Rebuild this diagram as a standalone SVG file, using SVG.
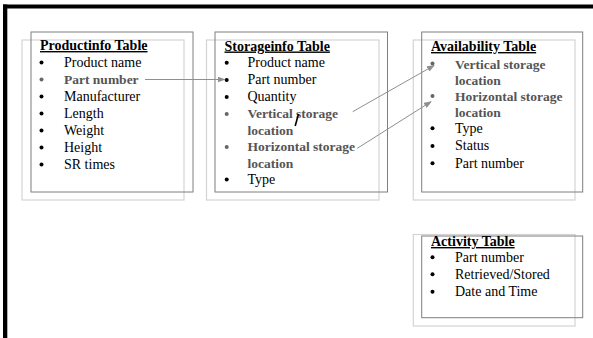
<svg xmlns="http://www.w3.org/2000/svg" width="593" height="338" viewBox="0 0 593 338">
<defs>
<style>
text{font-family:"Liberation Serif","Times New Roman",serif;font-size:14px;fill:#000}
.t{font-weight:bold;text-decoration:underline}
.b{font-weight:bold;font-size:13.5px;fill:#555}
.dk{fill:none;stroke:#7f7f7f;stroke-width:1}
.lt{fill:none;stroke:#d4d4d4;stroke-width:1.2}
.bl{fill:#000}
.bg{fill:#666}
.cn{stroke:#8f8f8f;stroke-width:1;fill:none}
</style>
<marker id="ah" markerWidth="8" markerHeight="6" refX="7" refY="3" orient="auto" markerUnits="userSpaceOnUse">
<path d="M0,0 L8,3 L0,6 Z" fill="#8f8f8f"/>
</marker>
</defs>
<rect x="0" y="0" width="593" height="338" fill="#fff"/>
<rect x="3" y="4.5" width="590" height="4" fill="#000"/>
<rect x="3" y="4.5" width="4.3" height="334" fill="#000"/>

<g id="productinfo">
<rect class="lt" x="22" y="40" width="162" height="160"/>
<rect class="dk" x="31" y="32" width="162" height="160"/>
<text class="t" x="40" y="50">Productinfo Table</text>
<circle class="bl" cx="41.5" cy="62.5" r="2"/><text x="64" y="66.7">Product name</text>
<circle class="bg" cx="41.5" cy="79.5" r="2"/><text class="b" x="64" y="83.7">Part number</text>
<circle class="bl" cx="41.5" cy="96.5" r="2"/><text x="64" y="100.7">Manufacturer</text>
<circle class="bl" cx="41.5" cy="113.5" r="2"/><text x="64" y="117.7">Length</text>
<circle class="bl" cx="41.5" cy="130.5" r="2"/><text x="64" y="134.7">Weight</text>
<circle class="bl" cx="41.5" cy="147.5" r="2"/><text x="64" y="151.7">Height</text>
<circle class="bl" cx="41.5" cy="164.5" r="2"/><text x="64" y="168.7">SR times</text>
</g>

<g id="storageinfo">
<rect class="lt" x="206.5" y="40" width="172.5" height="160"/>
<rect class="dk" x="215" y="32" width="172.5" height="160"/>
<text class="t" x="224.5" y="50.5">Storageinfo Table</text>
<circle class="bl" cx="226.7" cy="62.7" r="2"/><text x="247.5" y="67">Product name</text>
<circle class="bl" cx="226.7" cy="80" r="2"/><text x="247.5" y="84.2">Part number</text>
<circle class="bl" cx="226.7" cy="97" r="2"/><text x="247.5" y="101.2">Quantity</text>
<circle class="bg" cx="226.7" cy="114" r="2"/><text class="b" x="247.5" y="118.2">Vertical storage</text>
<text class="b" x="247.5" y="134.8">location</text>
<circle class="bg" cx="226.7" cy="147" r="2"/><text class="b" x="247.5" y="151.4">Horizontal storage</text>
<text class="b" x="247.5" y="168">location</text>
<circle class="bl" cx="226.7" cy="179.5" r="2"/><text x="247.5" y="184.2">Type</text>
<line x1="298.5" y1="114" x2="295.2" y2="126" stroke="#000" stroke-width="1.6"/>
</g>

<g id="availability">
<rect class="lt" x="413.3" y="40" width="161.7" height="160"/>
<rect class="dk" x="421.7" y="32" width="161" height="160"/>
<text class="t" x="431" y="51">Availability Table</text>
<circle class="bg" cx="432.5" cy="63.5" r="2"/><text class="b" x="455" y="68.5">Vertical storage</text>
<text class="b" x="455" y="84.5">location</text>
<circle class="bg" cx="432.5" cy="96" r="2"/><text class="b" x="455" y="100.5">Horizontal storage</text>
<text class="b" x="455" y="116.5">location</text>
<circle class="bl" cx="432.5" cy="128.3" r="2"/><text x="455" y="132.5">Type</text>
<circle class="bl" cx="432.5" cy="146" r="2"/><text x="455" y="150">Status</text>
<circle class="bl" cx="432.5" cy="163.3" r="2"/><text x="455" y="167.5">Part number</text>
</g>

<g id="activity">
<rect class="lt" x="413.3" y="234.5" width="161.7" height="91.5"/>
<rect class="dk" x="421.7" y="236" width="161" height="81.7"/>
<text class="t" x="431" y="246">Activity Table</text>
<circle class="bl" cx="432.5" cy="257.3" r="2"/><text x="455" y="261.5">Part number</text>
<circle class="bl" cx="432.5" cy="274.3" r="2"/><text x="455" y="278.5">Retrieved/Stored</text>
<circle class="bl" cx="432.5" cy="291.7" r="2"/><text x="455" y="295.7">Date and Time</text>
</g>

<g id="connectors">
<line class="cn" x1="145" y1="79.5" x2="224.5" y2="79.5" marker-end="url(#ah)"/>
<line class="cn" x1="352.7" y1="111.7" x2="434" y2="65.5" marker-end="url(#ah)"/>
<line class="cn" x1="357.3" y1="148.3" x2="431" y2="101.7" marker-end="url(#ah)"/>
</g>
</svg>
